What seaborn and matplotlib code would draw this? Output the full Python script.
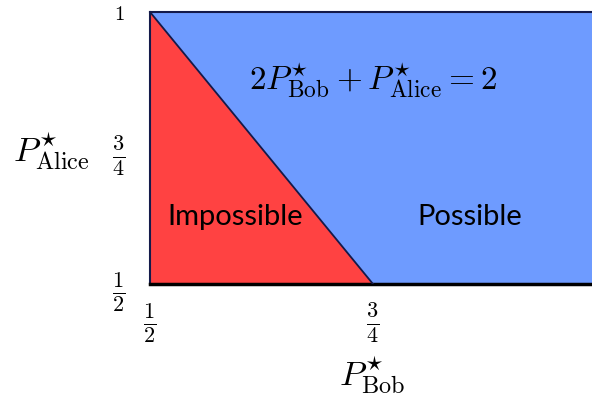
import matplotlib
matplotlib.use("Agg")
import matplotlib.pyplot as plt
import seaborn as sns
import pandas as pd

# data
p_bob_range = [0.5, 1.0]
p_alice_range = [0.5, 1.0]
boundary_bob = [0.5, 0.75]
boundary_alice = [1.0, 0.5]
xtick_vals = [0.5, 0.75, 1.0]
xtick_labels = [r"$\frac{1}{2}$", r"$\frac{3}{4}$", r"$1$"]
ytick_vals = [0.5, 0.75, 1.0]
ytick_labels = [r"$\frac{1}{2}$", r"$\frac{3}{4}$", r"$1$"]
region_labels = ["Impossible", "Possible"]
equation = r"$2P^{\star}_{\rm Bob} + P^{\star}_{\rm Alice} = 2$"

sns.set_style("white")
plt.rcParams["mathtext.fontset"] = "cm"
plt.rcParams["font.family"] = ["Lato", "DejaVu Sans"]
plt.rcParams["text.color"] = "black"
plt.rcParams["axes.labelcolor"] = "black"
plt.rcParams["xtick.color"] = "black"
plt.rcParams["ytick.color"] = "black"

fig = plt.figure(figsize=(5.92, 3.96), dpi=100)
ax = fig.add_axes([150/592, 112/396, 446/592, 272/396])

red = "#ff4242"
blue = "#6e9bff"
navy = "#141a4a"

# blue background (possible region)
ax.fill_between(p_bob_range, [p_alice_range[0]]*2, [p_alice_range[1]]*2, color=blue, linewidth=0, zorder=1)
# red triangle (impossible region)
ax.fill_between(boundary_bob, [p_alice_range[0]]*2, boundary_alice, color=red, linewidth=0, zorder=2)

df = pd.DataFrame({"bob": boundary_bob, "alice": boundary_alice})
sns.lineplot(data=df, x="bob", y="alice", ax=ax, color=navy, linewidth=1.3, zorder=3)

ax.set_xlim(p_bob_range)
ax.set_ylim(p_alice_range)

ax.set_xticks(xtick_vals)
ax.set_xticklabels(xtick_labels)
ax.set_yticks(ytick_vals)
ax.set_yticklabels(ytick_labels)
ax.tick_params(axis="x", length=0, pad=28)
ax.tick_params(axis="y", length=0, pad=18)
for lab in ax.get_xticklabels() + ax.get_yticklabels():
    lab.set_fontsize(15 if lab.get_text() == r"$1$" else 23)
for lab in ax.get_xticklabels():
    lab.set_va("center")

for side in ["left", "top"]:
    ax.spines[side].set_color(navy)
    ax.spines[side].set_linewidth(1.5)
ax.spines["bottom"].set_color("black")
ax.spines["bottom"].set_linewidth(2.5)
ax.spines["right"].set_visible(False)

ax.set_xlabel(r"$P^{\star}_{\rm Bob}$", fontsize=25)
ax.set_ylabel(r"$P^{\star}_{\rm Alice}$", fontsize=25, rotation=0, ha="center", va="center")
ax.yaxis.set_label_coords(-0.22, 0.49)
ax.xaxis.set_label_coords(0.498, -0.335)
ax.xaxis.label.set_va("center")

ax.text(0.75, 0.875, equation, fontsize=24, ha="center", va="center", zorder=4)
ax.text(0.595, 0.623, region_labels[0], fontsize=21, ha="center", va="center", zorder=4)
ax.text(0.858, 0.623, region_labels[1], fontsize=21, ha="center", va="center", zorder=4)

fig.savefig("out.png", dpi=100)
